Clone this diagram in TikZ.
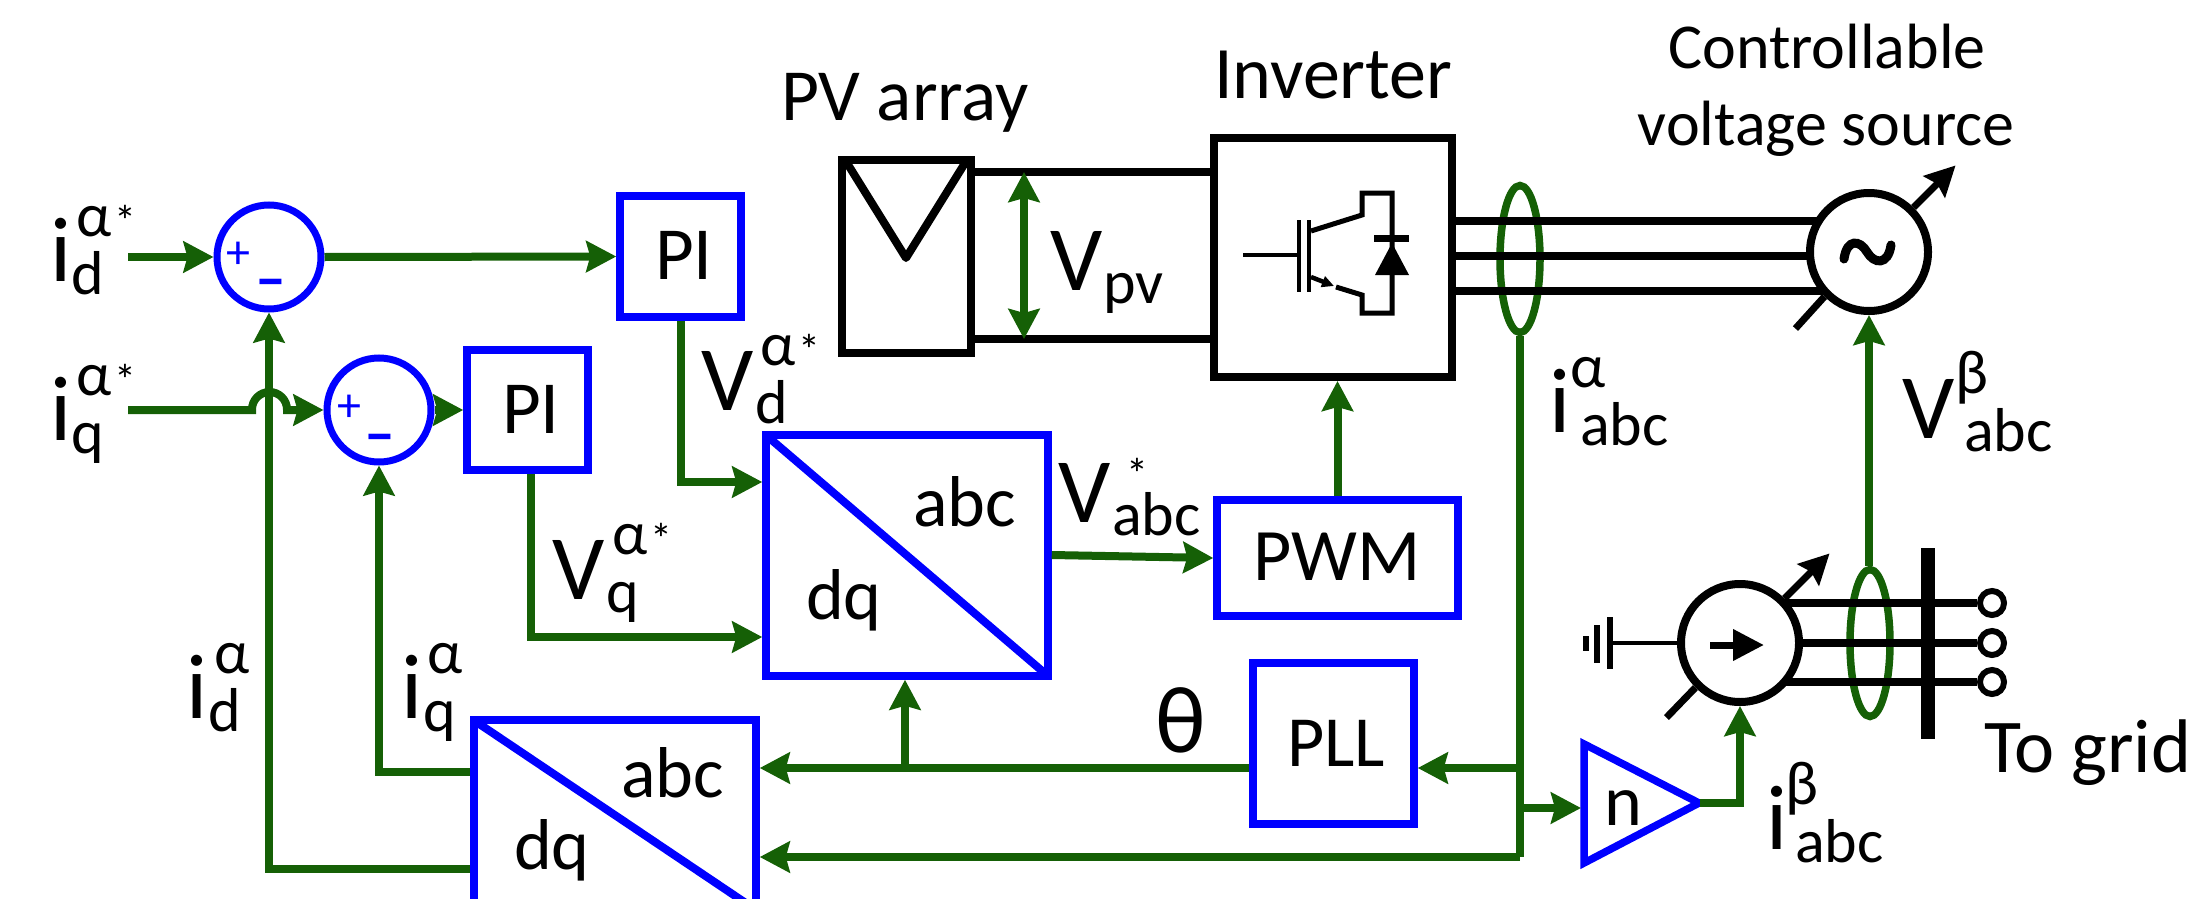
\documentclass[tikz,border=0pt]{standalone}
\usepackage{fontspec}
\setmainfont{Carlito}
\usetikzlibrary{arrows.meta,shapes.geometric,backgrounds,calc}
\definecolor{wgreen}{HTML}{156006}
\definecolor{bblue}{HTML}{0000FF}
\newcommand\mainsz{\fontsize{92}{92}\selectfont}
\newcommand\supsz{\fontsize{62}{62}\selectfont}
\newcommand\astsmall{{\fontsize{44}{44}\selectfont\kern3pt *}}
% base, sup, sub, sup kern, sub kern
\newcommand\scrlbl[5]{{\mainsz #1}\rlap{\kern#4pt\raisebox{45pt}{\supsz #2}}\kern#5pt\raisebox{-13pt}{\supsz #3}}
\tikzset{
  lab/.style={inner sep=0pt,outer sep=0pt,anchor=base west,text=black},
  txt/.style={lab,font=\fontsize{72}{72}\selectfont},
  bbox/.style={draw=bblue,line width=7.5pt,fill=white,inner sep=0pt,minimum width=#1},
  sumc/.style={circle,draw=bblue,line width=7pt,fill=white,inner sep=0pt,minimum size=104pt},
  kbox/.style={draw=black,line width=8pt,fill=white,inner sep=0pt},
  kcirc/.style={circle,draw=black,line width=8pt,fill=white,inner sep=0pt,minimum size=118pt},
  wire/.style={draw=wgreen,line width=8pt,line join=miter},
  arr/.style={wire,-{Stealth[length=30pt,width=31pt,inset=4pt]}},
  karr/.style={draw=black,line width=7pt,-{Stealth[length=30pt,width=30pt,inset=4pt]}},
  kw/.style={draw=black,line width=7.5pt},
  kthin/.style={draw=black,line width=4.5pt},
  ring/.style={ellipse,draw=wgreen,line width=7.5pt,inner sep=0pt,minimum width=40pt,minimum height=147pt},
  term/.style={circle,draw=black,line width=6pt,fill=white,inner sep=0pt,minimum size=24pt},
  sgn/.style={inner sep=0pt,outer sep=0pt,text=bblue,anchor=center}
}
\begin{document}
\begin{tikzpicture}[x=1pt,y=-1pt]
\useasboundingbox (0,0) rectangle (2187,899);
\clip (0,0) rectangle (2187,899);
% control blocks
\node[sumc] (sumA) at (269,257) {};
\node[sumc] (sumB) at (379,410) {};
\node[bbox=121pt,minimum height=121pt] (piA) at (680.5,256.5) {};
\node[bbox=121pt,minimum height=120pt] (piB) at (527.5,410) {};
\node[bbox=282pt,minimum height=241pt] (dqA) at (907,555.5) {};
\node[bbox=282pt,minimum height=190pt] (dqB) at (615,815) {};
\node[bbox=241pt,minimum height=116pt] (pwm) at (1337.5,558) {};
\node[bbox=161pt,minimum height=161pt] (pll) at (1333.5,743.5) {};
\draw[draw=bblue,line width=8pt] ($(dqA.north west)+(5,5)$) -- ($(dqA.south east)+(-4,-4)$);
\draw[draw=bblue,line width=8pt] ($(dqB.north west)+(5,5)$) -- ($(dqB.south east)+(-4,-4)$);
% text in blocks
\node[txt,font=\fontsize{75}{75}\selectfont] (tPIa) at (655,279) {PI};
\node[txt,font=\fontsize{75}{75}\selectfont] (tPIb) at (502,433) {PI};
\node[txt] (tabcA) at (913,526) {abc};
\node[txt] (tdqA) at (806,619) {dq};
\node[txt] (tabcB) at (621,797) {abc};
\node[txt] (tdqB) at (514,869) {dq};
\node[txt,anchor=base,font=\fontsize{74}{74}\selectfont] (tPWM) at (1337,580) {PWM};
\node[txt,anchor=base] (tPLL) at (1336,766) {PLL};
\node[sgn,font=\fontsize{48}{48}\selectfont] (plusA) at (238,255) {+};
\node[sgn,font=\fontsize{62}{62}\selectfont\bfseries] (minusA) at (271,289) {–};
\node[sgn,font=\fontsize{48}{48}\selectfont] (plusB) at (349.5,408) {+};
\node[sgn,font=\fontsize{62}{62}\selectfont\bfseries] (minusB) at (380,444) {–};
% power part
\node[kbox,minimum width=129pt,minimum height=193pt] (pv) at (906.5,256.5) {};
\draw[draw=black,line width=8pt,line join=round] (847,163) -- (906,258) -- (965,163);
\node[kbox,minimum width=238pt,minimum height=239pt] (inv) at (1333,257.5) {};
\node[kcirc] (vs) at (1869,252) {};
\node[kcirc] (cs) at (1740,643) {};
\node[term] (t1) at (1992,603) {};
\node[term] (t2) at (1992,643) {};
\node[term] (t3) at (1992,682) {};
\begin{scope}[on background layer]
  % rings lie under the three-phase lines
  \node[ring] (ringA) at (1520,259) {};
  \node[ring] (ringB) at (1870,643) {};
  \draw[kw] (pv.east |- 0,172) -- (inv.west |- 0,172);
  \draw[kw] (pv.east |- 0,339) -- (inv.west |- 0,339);
  \draw[kw] (inv.east |- 0,221) -- (vs.center |- 0,221);
  \draw[kw] (inv.east |- 0,256) -- (vs.center |- 0,256);
  \draw[kw] (inv.east |- 0,291) -- (vs.center |- 0,291);
  \draw[kw] (cs.center |- t1) -- (t1);
  \draw[kw] (cs.center |- t2) -- (t2);
  \draw[kw] (cs.center |- t3) -- (t3);
\end{scope}
% IGBT symbol
\draw[kthin] (1243,255) -- (1298,255);
\draw[kthin] (1299,220) -- (1299,292);
\draw[kthin] (1309,220) -- (1309,292);
\draw[kthin,line width=5pt] (1311,231) -- (1362,215) -- (1362,193) -- (1392,193) -- (1392,313) -- (1362,313) -- (1362,295) -- (1336,287);
\draw[kthin,-{Triangle[length=12pt,width=11pt]}] (1311,277) -- (1334,286);
\draw[draw=black,line width=7pt] (1374,238) -- (1409,238);
\fill[black] (1392,243) -- (1409,275) -- (1375,275) -- cycle;
% tilde and source decoration
\draw[draw=black,line width=9pt,line cap=round] (1844,259) .. controls (1847,238) and (1860,240) .. (1867,252) .. controls (1874,264) and (1888,266) .. (1891,245);
\draw[karr] (vs.45) -- ++(42,-42);
\draw[draw=black,line width=7pt] (vs.225) -- ++(-29,32);
\draw[karr] (cs.45) -- ++(45,-45);
\draw[draw=black,line width=7pt] (cs.225) -- ++(-29,30);
\coordinate (csa) at (1710,645);
\coordinate (csb) at (1764,645);
\draw[draw=black,line width=7pt,-{Triangle[length=31pt,width=30pt]}] (csa) -- (csb);
% ground
\coordinate (gnd) at (1612,643);
\draw[kthin] (cs.west |- gnd) -- (gnd);
\draw[draw=black,line width=5.5pt] (1610,617) -- (1610,669);
\draw[draw=black,line width=5.5pt] (1597,625) -- (1597,663);
\draw[draw=black,line width=5.5pt] (1586,636) -- (1586,651);
% bus bar
\draw[draw=black,line width=14pt] (1928,548) -- (1928,739);
% gain triangle
\coordinate (nl) at (1584,744);
\coordinate (nb) at (1584,863);
\coordinate (nr) at (1699,803);
\draw[draw=bblue,line width=7.5pt,fill=white] (nl) -- (nr) -- (nb) -- cycle;
\node[txt] (tn) at (1604,825) {n};
% green wires
\coordinate (idin) at (128,257);
\coordinate (iqin) at (128,410);
\coordinate (tapth) at (905,768);
\coordinate (nin) at (1581,808);
\coordinate (nout) at (1700,803);
\coordinate (vtop) at (1024,172);
\coordinate (vbot) at (1024,339);
\draw[arr] (idin) -- (sumA.west);
\draw[arr] (sumA.east) -- (piA.west);
\draw[arr] (sumB.east) -- (piB.west);
\draw[arr] (dqB.west |- 0,869) -| (sumA.south);
\draw[arr] (dqB.west |- 0,772) -| (sumB.south);
\draw[wire,-{Stealth[length=30pt,width=31pt,inset=4pt]}] (iqin) -- (252,410) -- (252,409.5) arc[start angle=180,end angle=0,radius=17.5pt] -- (287,410) -- (sumB.west);
\draw[arr] (piA.south) |- (dqA.west |- 0,482);
\draw[arr] ([xshift=3.5pt]piB.south) |- (dqA.west |- 0,637);
\draw[arr] (dqA.east |- 0,555) -- (pwm.west);
\draw[arr] (pwm.north) -- (pwm.north |- inv.south);
\draw[arr] (pll.west |- 0,768) -- (dqB.east |- 0,768);
\draw[arr] (tapth) -- (tapth |- dqA.south);
\draw[wire] (ringA.south) -- (ringA.south |- 0,857);
\draw[arr] (ringA.south |- 0,857) -- (dqB.east |- 0,857);
\draw[arr] (ringA.south |- 0,768) -- (pll.east |- 0,768);
\draw[arr] (ringA.south |- nin) -- (nin);
\draw[arr] (nout) -| (cs.south);
\draw[arr] (ringB.north -| vs.south) -- (vs.south);
\draw[draw=wgreen,line width=8pt,{Stealth[length=30pt,width=31pt,inset=4pt]}-{Stealth[length=30pt,width=31pt,inset=4pt]}] (vtop) -- (vbot);
% labels
\node[lab] (lidref) at (50,281) {\scrlbl{i}{α\astsmall}{d}{5}{0}};
\node[lab] (liqref) at (50,440) {\scrlbl{i}{α\astsmall}{q}{5}{0}};
\node[lab] (lid) at (186,718) {\scrlbl{i}{α}{d}{7}{1}};
\node[lab] (liq) at (401,718) {\scrlbl{i}{α}{q}{5}{1}};
\node[lab] (lvd) at (701,410) {\scrlbl{V}{α\astsmall}{d}{7}{2}};
\node[lab] (lvq) at (552,599) {\scrlbl{V}{α\astsmall}{q}{8}{2}};
\node[lab] (lvpv) at (1050,290) {\scrlbl{V}{}{pv}{0}{1}};
\node[lab] (lvabc) at (1058,522) {\scrlbl{V}{\raisebox{-12pt}{\astsmall}}{abc}{13}{2}};
\node[lab] (liabca) at (1549,432) {\scrlbl{i}{α}{abc}{0}{10}};
\node[lab] (lvabcb) at (1902,438) {\scrlbl{V}{β}{abc}{1}{10}};
\node[lab] (liabcb) at (1766,849) {\scrlbl{i}{β}{abc}{-2}{8}};
\node[lab,font=\fontsize{95}{95}\selectfont] (ltheta) at (1155,752) {θ};
\node[txt,font=\fontsize{73.5}{73.5}\selectfont] (lpv) at (781,120) {PV array};
\node[txt,font=\fontsize{74}{74}\selectfont] (linv) at (1214,99) {Inverter};
\node[txt,font=\fontsize{64}{64}\selectfont,anchor=base] (lc1) at (1827,69) {Controllable};
\node[txt,font=\fontsize{64}{64}\selectfont,anchor=base] (lc2) at (1826,145) {voltage source};
\node[txt,font=\fontsize{76}{76}\selectfont] (lgrid) at (1984,772) {To grid};
\end{tikzpicture}
\end{document}
